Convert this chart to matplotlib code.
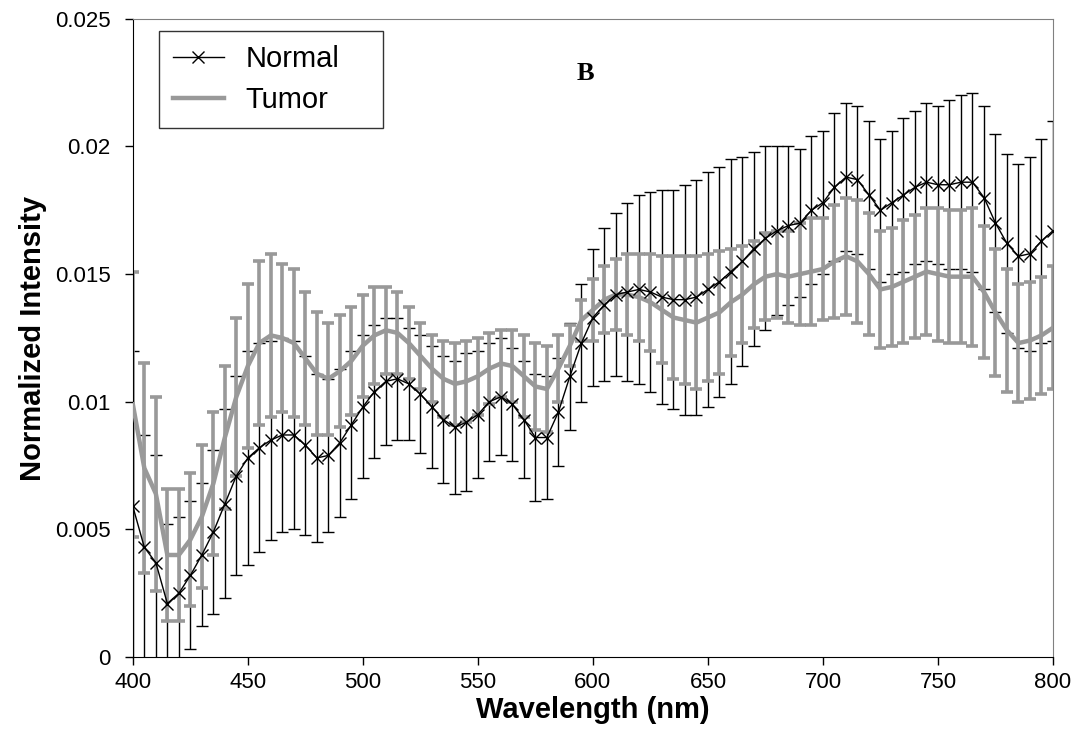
import numpy as np
import matplotlib
matplotlib.use('Agg')
import matplotlib.pyplot as plt

plt.rcParams['font.family'] = ['Liberation Sans', 'DejaVu Sans']

### DATA
wavelength = np.arange(400, 801, 5)  # nm

normal = [0.0059, 0.0043, 0.0037, 0.0021, 0.0025, 0.0032, 0.0040, 0.0049, 0.0060, 0.0071,
          0.0078, 0.0082, 0.0085, 0.0087, 0.0087, 0.0083, 0.0078, 0.0079, 0.0084, 0.0091,
          0.0098, 0.0104, 0.0108, 0.0109, 0.0107, 0.0103, 0.0098, 0.0093, 0.0090, 0.0092,
          0.0095, 0.0100, 0.0102, 0.0099, 0.0093, 0.0086, 0.0086, 0.0096, 0.0110, 0.0123,
          0.0133, 0.0138, 0.0142, 0.0143, 0.0144, 0.0143, 0.0141, 0.0140, 0.0140, 0.0141,
          0.0144, 0.0147, 0.0151, 0.0155, 0.0160, 0.0164, 0.0167, 0.0169, 0.0170, 0.0175,
          0.0178, 0.0184, 0.0188, 0.0187, 0.0181, 0.0175, 0.0178, 0.0181, 0.0184, 0.0186,
          0.0185, 0.0185, 0.0186, 0.0186, 0.0180, 0.0170, 0.0162, 0.0157, 0.0158, 0.0163,
          0.0167]

normal_sd = [0.0061, 0.0044, 0.0042, 0.0031, 0.0030, 0.0029, 0.0028, 0.0032, 0.0037, 0.0039,
             0.0042, 0.0041, 0.0039, 0.0038, 0.0037, 0.0035, 0.0033, 0.0030, 0.0029, 0.0029,
             0.0028, 0.0026, 0.0025, 0.0024, 0.0022, 0.0023, 0.0024, 0.0025, 0.0026, 0.0027,
             0.0025, 0.0023, 0.0023, 0.0022, 0.0023, 0.0025, 0.0024, 0.0021, 0.0021, 0.0023,
             0.0027, 0.0030, 0.0032, 0.0035, 0.0037, 0.0039, 0.0042, 0.0043, 0.0045, 0.0046,
             0.0046, 0.0045, 0.0044, 0.0041, 0.0038, 0.0036, 0.0033, 0.0031, 0.0029, 0.0029,
             0.0028, 0.0029, 0.0029, 0.0029, 0.0029, 0.0028, 0.0028, 0.0030, 0.0030, 0.0031,
             0.0031, 0.0033, 0.0034, 0.0035, 0.0036, 0.0035, 0.0035, 0.0036, 0.0038, 0.0040,
             0.0043]

tumor = [0.0099, 0.0074, 0.0064, 0.0040, 0.0040, 0.0046, 0.0055, 0.0068, 0.0086, 0.0102,
         0.0114, 0.0123, 0.0126, 0.0125, 0.0123, 0.0117, 0.0111, 0.0109, 0.0112, 0.0116,
         0.0122, 0.0126, 0.0128, 0.0127, 0.0123, 0.0118, 0.0113, 0.0109, 0.0107, 0.0108,
         0.0110, 0.0113, 0.0115, 0.0114, 0.0110, 0.0106, 0.0105, 0.0113, 0.0122, 0.0132,
         0.0136, 0.0140, 0.0142, 0.0142, 0.0141, 0.0139, 0.0136, 0.0133, 0.0132, 0.0131,
         0.0133, 0.0135, 0.0139, 0.0142, 0.0146, 0.0149, 0.0150, 0.0149, 0.0150, 0.0151,
         0.0152, 0.0155, 0.0157, 0.0155, 0.0150, 0.0144, 0.0145, 0.0147, 0.0149, 0.0151,
         0.0150, 0.0149, 0.0149, 0.0149, 0.0143, 0.0135, 0.0128, 0.0123, 0.0124, 0.0126,
         0.0129]

tumor_sd = [0.0052, 0.0041, 0.0038, 0.0026, 0.0026, 0.0026, 0.0028, 0.0028, 0.0028, 0.0031,
            0.0032, 0.0032, 0.0032, 0.0029, 0.0029, 0.0026, 0.0024, 0.0022, 0.0022, 0.0021,
            0.0020, 0.0019, 0.0017, 0.0016, 0.0014, 0.0013, 0.0013, 0.0015, 0.0016, 0.0016,
            0.0015, 0.0014, 0.0013, 0.0014, 0.0016, 0.0017, 0.0017, 0.0013, 0.0008, 0.0008,
            0.0012, 0.0013, 0.0014, 0.0016, 0.0017, 0.0019, 0.0021, 0.0024, 0.0025, 0.0026,
            0.0025, 0.0024, 0.0021, 0.0019, 0.0017, 0.0017, 0.0017, 0.0018, 0.0020, 0.0021,
            0.0020, 0.0022, 0.0023, 0.0024, 0.0024, 0.0023, 0.0023, 0.0024, 0.0024, 0.0025,
            0.0026, 0.0026, 0.0026, 0.0027, 0.0026, 0.0025, 0.0024, 0.0023, 0.0023, 0.0023,
            0.0024]

x_ticks = [400, 450, 500, 550, 600, 650, 700, 750, 800]
y_ticks = [0, 0.005, 0.01, 0.015, 0.02, 0.025]
y_ticklabels = ['0', '0.005', '0.01', '0.015', '0.02', '0.025']

gray = '#999999'

### PLOT
fig = plt.figure(figsize=(10.8, 7.51), dpi=100)
ax = fig.add_axes([0.123, 0.125, 0.852, 0.850])

# error bars first (black under gray), then the lines
ax.errorbar(wavelength, normal, yerr=normal_sd, fmt='none', ecolor='black',
            elinewidth=1.0, capsize=4.3, capthick=1.0, zorder=1)
ax.errorbar(wavelength, tumor, yerr=tumor_sd, fmt='none', ecolor=gray,
            elinewidth=2.6, capsize=4.6, capthick=2.6, zorder=2)
ax.plot(wavelength, tumor, color=gray, lw=3.2, label='Tumor', zorder=3)
ax.plot(wavelength, normal, color='black', lw=1.0, marker='x', markersize=9,
        markeredgewidth=1.0, label='Normal', zorder=4)

ax.set_xlim(400, 800)
ax.set_ylim(0, 0.025)
ax.set_xticks(x_ticks)
ax.set_yticks(y_ticks)
ax.set_yticklabels(y_ticklabels)
ax.tick_params(labelsize=16, direction='out', length=6, width=1)
ax.tick_params(axis='x', pad=5)
ax.tick_params(axis='y', pad=10)

for side in ['top', 'right']:
    ax.spines[side].set_color('#808080')
for side in ['left', 'bottom']:
    ax.spines[side].set_color('black')

ax.set_xlabel('Wavelength (nm)', fontsize=21, fontweight='bold', labelpad=2)
ax.set_ylabel('Normalized Intensity', fontsize=21, fontweight='bold', labelpad=6)

ax.text(0.492, 0.914, 'B', transform=ax.transAxes, fontsize=19, fontweight='bold',
        family='Liberation Serif', ha='center', va='center')

handles, labels = ax.get_legend_handles_labels()
leg = ax.legend(handles[::-1], labels[::-1], loc='upper left',
                bbox_to_anchor=(0.028, 0.5, 0.2435, 0.481), mode='expand',
                borderaxespad=0, fontsize=21, frameon=True, fancybox=False,
                edgecolor='black', handlelength=1.75, labelspacing=0.45,
                borderpad=0.48, handletextpad=0.75)
leg.get_frame().set_linewidth(1.0)

fig.savefig('out.png', dpi=100)
